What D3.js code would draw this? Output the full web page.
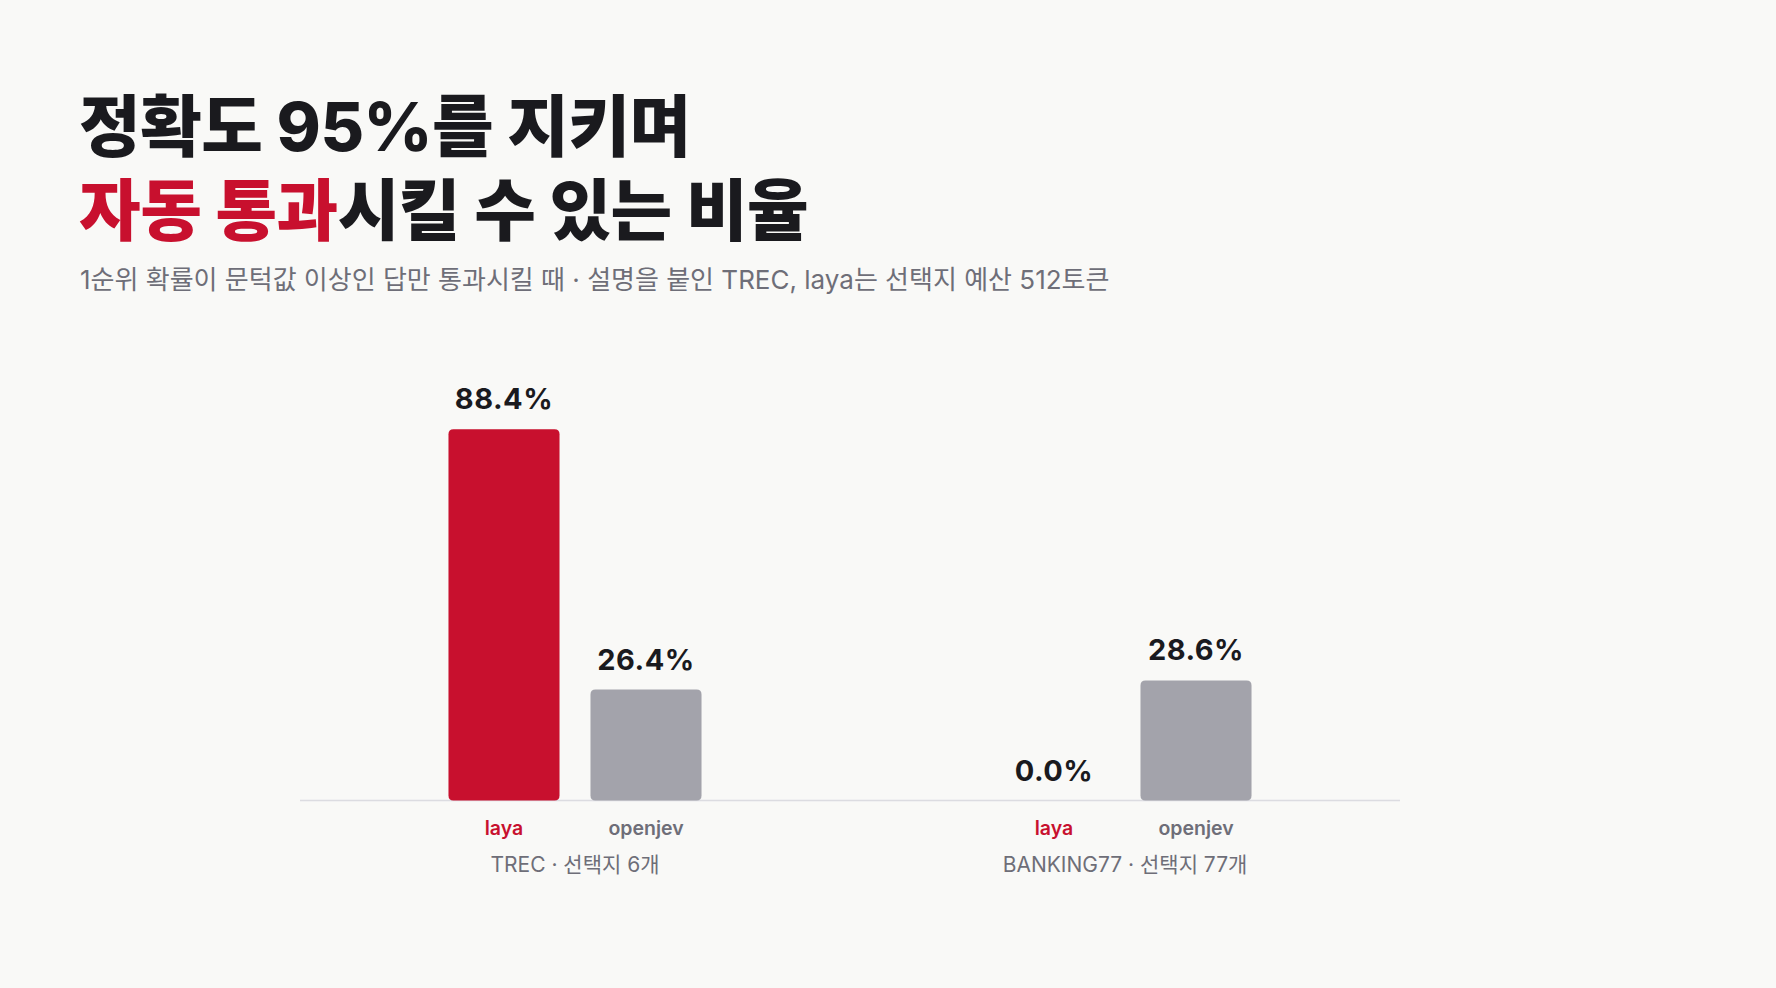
<!DOCTYPE html>
<html lang="ko">
<head>
<meta charset="utf-8">
<script src="https://cdn.jsdelivr.net/npm/d3@7"></script>
<style>
  html, body { margin: 0; padding: 0; background: #f9f9f7; }
  svg { display: block; }
  text { font-family: "Inter", "Noto Sans CJK KR", sans-serif; }
</style>
</head>
<body>
<svg id="chart" width="1776" height="988"></svg>
<script>
// ---- data ----
const titleLine1 = "정확도 95%를 지키며";
const titleLine2Accent = "자동 통과";
const titleLine2Rest = "시킬 수 있는 비율";
const subtitle = "1순위 확률이 문턱값 이상인 답만 통과시킬 때 · 설명을 붙인 TREC, laya는 선택지 예산 512토큰";
const groups = ["TREC · 선택지 6개", "BANKING77 · 선택지 77개"];
const series = ["laya", "openjev"];
const layaValues = [88.4, 0.0];
const openjevValues = [26.4, 28.6];

// ---- style ----
const RED = "#c8102e";
const GRAY_BAR = "#a3a3ab";
const GRAY_TEXT = "#6e6e78";
const DARK = "#1a1a1e";

const svg = d3.select("#chart");
svg.append("rect").attr("width", 1776).attr("height", 988).attr("fill", "#f9f9f7");

// Title
svg.append("text").attr("x", 79).attr("y", 151)
  .attr("font-size", 67).attr("font-weight", 800).attr("fill", DARK)
  .attr("letter-spacing", "-0.5px")
  .text(titleLine1);
const t2 = svg.append("text").attr("x", 79).attr("y", 235)
  .attr("font-size", 67).attr("font-weight", 800).attr("fill", DARK)
  .attr("letter-spacing", "-0.5px");
t2.append("tspan").attr("fill", RED).text(titleLine2Accent);
t2.append("tspan").text(titleLine2Rest);

svg.append("text").attr("x", 80).attr("y", 289)
  .attr("font-size", 26).attr("font-weight", 400).attr("fill", GRAY_TEXT)
  .text(subtitle);

// Scales
const plotLeft = 300, plotRight = 1400, baseY = 800.5;
const x0 = d3.scaleBand().domain(groups).range([plotLeft, plotRight]).padding(0);
const x1 = d3.scaleBand().domain(series).range([-142, 142]).paddingInner(0.218).paddingOuter(0.109);
const y = d3.scaleLinear().domain([0, 100]).range([baseY, 380.5]);

const rows = groups.map((g, i) => ({
  group: g,
  values: [
    { key: "laya", value: layaValues[i] },
    { key: "openjev", value: openjevValues[i] }
  ]
}));

const color = d3.scaleOrdinal().domain(series).range([RED, GRAY_BAR]);
const labelColor = d3.scaleOrdinal().domain(series).range([RED, GRAY_TEXT]);

// baseline
svg.append("line")
  .attr("x1", plotLeft).attr("x2", plotRight)
  .attr("y1", baseY).attr("y2", baseY)
  .attr("stroke", "#dcdce1").attr("stroke-width", 1.5);

const g = svg.selectAll("g.grp").data(rows).join("g")
  .attr("class", "grp")
  .attr("transform", d => `translate(${x0(d.group) + x0.bandwidth() / 2},0)`);

g.selectAll("path.bar").data(d => d.values).join("path")
  .attr("class", "bar")
  .attr("fill", d => color(d.key))
  .attr("d", d => {
    const x = x1(d.key), w = x1.bandwidth();
    const top = y(d.value), h = baseY - top;
    if (h <= 0) return "";
    const r = Math.min(5, h / 2);
    return `M${x},${baseY - r}
      L${x},${top + r} Q${x},${top} ${x + r},${top}
      L${x + w - r},${top} Q${x + w},${top} ${x + w},${top + r}
      L${x + w},${baseY - r} Q${x + w},${baseY} ${x + w - r},${baseY}
      L${x + r},${baseY} Q${x},${baseY} ${x},${baseY - r} Z`;
  });

g.selectAll("text.val").data(d => d.values).join("text")
  .attr("class", "val")
  .attr("x", d => x1(d.key) + x1.bandwidth() / 2)
  .attr("y", d => y(d.value) - 20)
  .attr("text-anchor", "middle")
  .attr("font-size", 29).attr("font-weight", 700).attr("fill", DARK)
  .attr("letter-spacing", "0.5px")
  .text(d => d3.format(".1f")(d.value) + "%");

g.selectAll("text.ser").data(d => d.values).join("text")
  .attr("class", "ser")
  .attr("x", d => x1(d.key) + x1.bandwidth() / 2)
  .attr("y", 835)
  .attr("text-anchor", "middle")
  .attr("font-size", 19.5).attr("font-weight", 600)
  .attr("fill", d => labelColor(d.key))
  .text(d => d.key);

g.append("text")
  .attr("x", 0).attr("y", 872)
  .attr("text-anchor", "middle")
  .attr("font-size", 21).attr("font-weight", 400).attr("fill", GRAY_TEXT)
  .text(d => d.group);
</script>
</body>
</html>
